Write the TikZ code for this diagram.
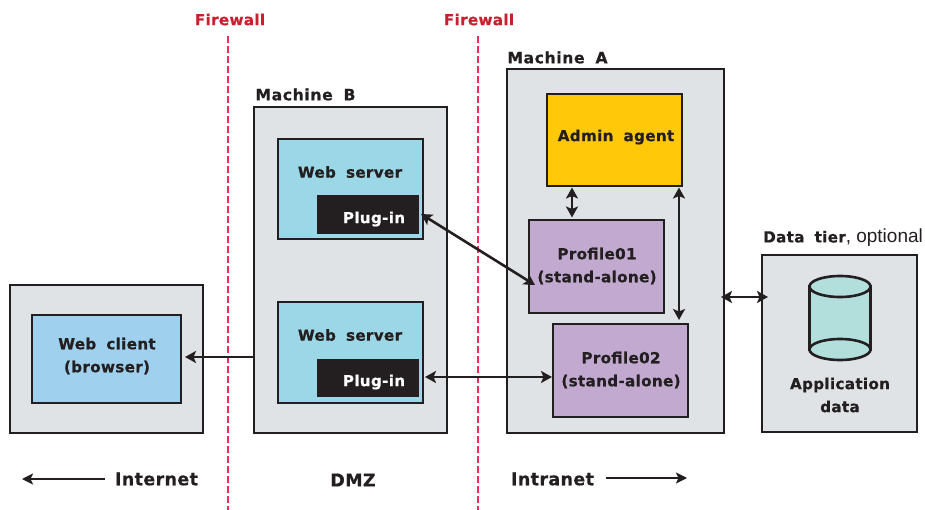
\documentclass[tikz,border=0pt]{standalone}
\usepackage{fontspec}
\setmainfont{DejaVu Sans}
\newfontface\lab{DejaVu Sans Bold}[LetterSpace=2,WordSpace=1.8,FakeBold=0.6]
\newfontface\labwide{DejaVu Sans Bold}[LetterSpace=4,WordSpace=1.8,FakeBold=0.6]
\newfontfamily\plain{Liberation Sans}
\usetikzlibrary{arrows.meta,shapes.geometric,calc}
\definecolor{ink}{HTML}{231F20}
\definecolor{pane}{HTML}{E0E3E6}
\definecolor{amber}{HTML}{FFC90A}
\definecolor{mauve}{HTML}{C1A9CF}
\definecolor{sky}{HTML}{9BD7E7}
\definecolor{client}{HTML}{9FD0EE}
\definecolor{teal}{HTML}{B2DFDB}
\definecolor{fwtext}{HTML}{C8202F}
\definecolor{fwline}{HTML}{EE2D5A}
\tikzset{
  x=1pt,y=-1pt,
  boxed/.style={draw=ink,line width=2.8pt,inner sep=0pt,outer sep=0pt,anchor=north west},
  panebox/.style={boxed,fill=pane},
  amberbox/.style={boxed,fill=amber},
  mauvebox/.style={boxed,fill=mauve},
  skybox/.style={boxed,fill=sky},
  clientbox/.style={boxed,fill=client},
  plugbox/.style={fill=ink,inner sep=0pt,outer sep=0pt,anchor=north west},
  lbl/.style={inner sep=0pt,text=ink,font=\lab\fontsize{15.2}{23}\selectfont,align=center},
  machinelbl/.style={lbl,font=\labwide\fontsize{15.6}{23}\selectfont},
  wlbl/.style={lbl,text=white},
  fwlbl/.style={lbl,text=fwtext},
  zone/.style={lbl,font=\lab\fontsize{17.5}{23}\selectfont},
  firewall/.style={draw=fwline,line width=2.2pt,dash pattern=on 7pt off 3pt},
  link/.style={draw=ink,line width=2.6pt,{Stealth[length=11pt,width=12pt,inset=2.5pt]}-{Stealth[length=11pt,width=12pt,inset=2.5pt]}},
  onelink/.style={draw=ink,line width=2.6pt,-{Stealth[length=11pt,width=12pt,inset=2.5pt]}},
  zonelink/.style={draw=ink,line width=2pt,-{Stealth[length=11pt,width=11pt,inset=2.5pt]}},
  cyl/.style={draw=ink,line width=2.6pt,fill=teal},
}
\newcommand{\placebox}[6]{\node[#1,minimum width=#4-#2,minimum height=#5-#3] (#6) at (#2,#3) {};}
\begin{document}
\begin{tikzpicture}
\useasboundingbox (0,0) rectangle (925,510);
% firewalls
\coordinate (fa0) at (228,36); \coordinate (fa1) at (228,510);
\coordinate (fb0) at (478,36); \coordinate (fb1) at (478,510);
\draw[firewall] (fa0) -- (fa1);
\draw[firewall] (fb0) -- (fb1);
\node[fwlbl] (fwa) at (230,19.5) {Firewall};
\node[fwlbl] (fwb) at (479,19.5) {Firewall};
% boxes
\placebox{panebox}{10}{285}{203}{433}{outerclient}
\placebox{clientbox}{32}{315}{181}{403}{client}
\placebox{panebox}{254}{107}{447}{433}{machb}
\placebox{skybox}{278}{139}{423}{239}{ws1}
\placebox{plugbox}{317}{195}{419}{234}{pl1}
\placebox{skybox}{278}{302}{423}{403}{ws2}
\placebox{plugbox}{317}{359}{419}{397}{pl2}
\placebox{panebox}{507}{69}{724}{433}{macha}
\placebox{amberbox}{547}{94}{682}{186}{admin}
\placebox{mauvebox}{529}{220}{664}{313}{p1}
\placebox{mauvebox}{553}{324}{688}{417}{p2}
\placebox{panebox}{762}{255}{917}{432}{data}
% cylinder
\filldraw[cyl] (809.5,286.5) rectangle (870.5,349.5);
\filldraw[cyl] (840,349.5) ellipse[x radius=30.5,y radius=10.5];
\filldraw[cyl] (840,286.5) ellipse[x radius=30.5,y radius=10.5];
% labels
\node[machinelbl] at (305.5,94.5) {Machine B};
\node[machinelbl] at (557.5,57.5) {Machine A};
\node[lbl,anchor=west] at (763,237.5) {Data tier\plain\fontsize{19}{23}\selectfont, optional};
\node[lbl] at (616,137) {Admin agent};
\node[lbl] at (350,172) {Web server};
\node[lbl] at (350,335) {Web server};
\node[wlbl] at (374,219) {Plug-in};
\node[wlbl] at (374,382) {Plug-in};
\node[lbl] at (597,266) {Profile01\\(stand-alone)};
\node[lbl] at (621,370) {Profile02\\(stand-alone)};
\node[lbl] at (107,356) {Web client\\(browser)};
\node[lbl] at (840,395) {Application\\data};
\node[zone] (inet) at (156.5,479) {Internet};
\node[zone] at (353,480) {DMZ};
\node[zone] (intra) at (552.5,479) {Intranet};
% connectors
\coordinate (inetend) at (22,479);
\coordinate (intraend) at (687,478);
\draw[zonelink] (inet.west) ++(-10,0) -- (inetend);
\draw[zonelink] (intra.east) ++(12,-1) -- (intraend);
\draw[onelink] (machb.west |- 0,357) -- (185,357);
\draw[link] (572,187.5) -- (572,217.5);
\draw[link] (679,187.5) -- (679,320);
\draw[link] (721,297) -- (768,297);
\draw[link] (421,214) -- (535,285);
\draw[link] (425,377) -- (552,377);
\end{tikzpicture}
\end{document}
